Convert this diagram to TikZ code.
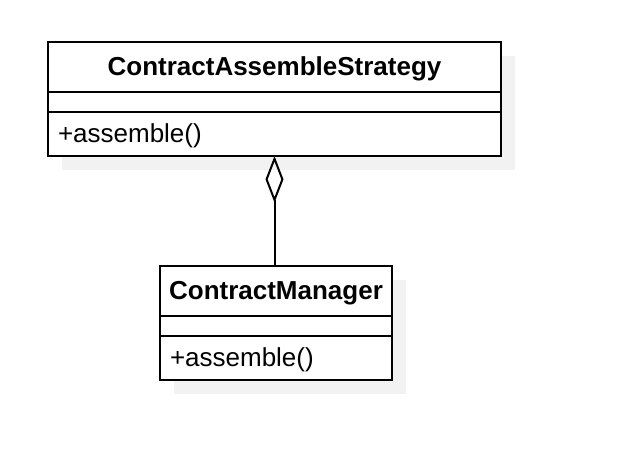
\documentclass[tikz,border=0pt]{standalone}
\usepackage{fontspec}
\setmainfont{Liberation Sans}
\usetikzlibrary{positioning,arrows.meta,backgrounds,calc}
\definecolor{shadowgray}{HTML}{F2F2F2}

\begin{document}
\begin{tikzpicture}[x=0.75pt,y=-0.75pt,
	classname/.style={draw, line width=1.5pt, fill=white, inner sep=0pt, outer sep=0pt, minimum height=37.5pt, text height=17pt, text depth=4pt, font=\fontsize{19.5}{23}\selectfont\bfseries},
	classattr/.style={draw, line width=1.5pt, fill=white, inner sep=0pt, outer sep=0pt, minimum height=15pt},
	classops/.style={draw, line width=1.5pt, fill=white, inner ysep=0pt, inner xsep=7.5pt, outer sep=0pt, minimum height=33pt, text height=17pt, text depth=4pt, align=left, font=\fontsize{19.5}{23}\selectfont},
	umlshadow/.style={fill=shadowgray},
	aggregation/.style={line width=1.5pt, {Diamond[open, length=35pt, width=13.5pt]}-}]
	
	\useasboundingbox (0,0) rectangle (618,456);
	
	%strategy class
	\node[classname, minimum width=339.75pt, anchor=north west] (csName) at (48,42) {ContractAssembleStrategy};
	\node[classattr, minimum width=339.75pt, below=0pt of csName] (csAttr) {};
	\node[classops, text width=324.75pt, below=0pt of csAttr] (csOps) {+assemble()};
	
	%manager class
	\node[classname, minimum width=174pt, anchor=north west] (cmName) at (160,266) {ContractManager};
	\node[classattr, minimum width=174pt, below=0pt of cmName] (cmAttr) {};
	\node[classops, text width=159pt, below=0pt of cmAttr] (cmOps) {+assemble()};
	
	%shadows
	\begin{scope}[on background layer]
		\fill[umlshadow] ($(csName.north west)+(14,14)$) rectangle ($(csOps.south east)+(14,14)$);
		\fill[umlshadow] ($(cmName.north west)+(14,14)$) rectangle ($(cmOps.south east)+(14,14)$);
	\end{scope}
	
	\draw[aggregation] (csOps.south) -- (csOps.south |- cmName.north);
	
\end{tikzpicture}
\end{document}
